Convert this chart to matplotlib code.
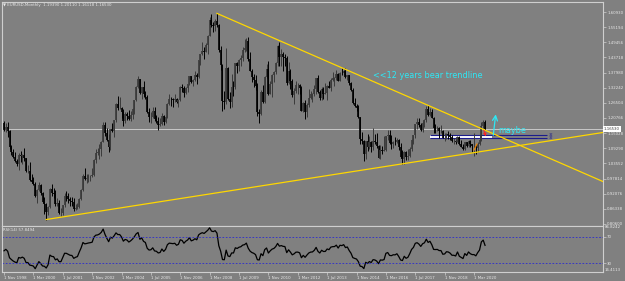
import matplotlib.pyplot as plt
import numpy as np

# EURUSD monthly candles, Nov 1998 .. Sep 2020 (open = previous close)
close = [
    1.162, 1.173,
    1.159, 1.098, 1.077, 1.058, 1.044, 1.035, 1.068, 1.062, 1.068, 1.056, 1.007, 1.007,
    0.972, 0.966, 0.957, 0.913, 0.933, 0.953, 0.925, 0.888, 0.883, 0.851, 0.870, 0.940,
    0.924, 0.921, 0.880, 0.887, 0.848, 0.848, 0.877, 0.912, 0.911, 0.901, 0.892, 0.890,
    0.861, 0.868, 0.872, 0.902, 0.934, 0.987, 0.977, 0.981, 0.986, 0.989, 0.993, 1.049,
    1.074, 1.078, 1.091, 1.117, 1.181, 1.150, 1.124, 1.099, 1.165, 1.158, 1.199, 1.259,
    1.246, 1.247, 1.230, 1.197, 1.222, 1.217, 1.202, 1.218, 1.241, 1.276, 1.327, 1.356,
    1.304, 1.326, 1.297, 1.287, 1.230, 1.210, 1.213, 1.234, 1.202, 1.198, 1.180, 1.184,
    1.216, 1.193, 1.212, 1.262, 1.281, 1.279, 1.277, 1.281, 1.267, 1.276, 1.324, 1.320,
    1.302, 1.323, 1.336, 1.365, 1.345, 1.353, 1.369, 1.363, 1.426, 1.449, 1.463, 1.459,
    1.486, 1.518, 1.579, 1.559, 1.556, 1.575, 1.561, 1.467, 1.408, 1.273, 1.269, 1.397,
    1.281, 1.267, 1.325, 1.324, 1.415, 1.403, 1.426, 1.435, 1.464, 1.472, 1.500, 1.433,
    1.387, 1.363, 1.351, 1.329, 1.229, 1.224, 1.305, 1.268, 1.363, 1.393, 1.299, 1.338,
    1.369, 1.382, 1.416, 1.481, 1.439, 1.450, 1.439, 1.436, 1.340, 1.386, 1.346, 1.294,
    1.309, 1.333, 1.334, 1.323, 1.236, 1.266, 1.229, 1.258, 1.285, 1.297, 1.299, 1.319,
    1.358, 1.306, 1.282, 1.317, 1.300, 1.301, 1.330, 1.322, 1.352, 1.358, 1.359, 1.375,
    1.349, 1.380, 1.377, 1.387, 1.363, 1.369, 1.339, 1.313, 1.263, 1.253, 1.245, 1.210,
    1.129, 1.120, 1.073, 1.122, 1.099, 1.115, 1.098, 1.121, 1.117, 1.100, 1.057, 1.086,
    1.083, 1.087, 1.138, 1.145, 1.113, 1.110, 1.117, 1.116, 1.124, 1.098, 1.059, 1.052,
    1.080, 1.058, 1.065, 1.090, 1.124, 1.142, 1.184, 1.191, 1.181, 1.164, 1.190, 1.200,
    1.241, 1.219, 1.232, 1.208, 1.169, 1.168, 1.169, 1.160, 1.160, 1.131, 1.133, 1.147,
    1.145, 1.137, 1.122, 1.122, 1.117, 1.137, 1.108, 1.099, 1.090, 1.115, 1.102, 1.121,
    1.109, 1.103, 1.103, 1.095, 1.110, 1.123, 1.178, 1.194, 1.165,
]
high = [
    1.198, 1.187,
    1.191, 1.161, 1.104, 1.092, 1.078, 1.051, 1.075, 1.083, 1.072, 1.093, 1.057, 1.029,
    1.041, 0.994, 0.984, 0.964, 0.938, 0.967, 0.958, 0.929, 0.908, 0.885, 0.874, 0.944,
    0.959, 0.942, 0.934, 0.904, 0.897, 0.866, 0.878, 0.924, 0.931, 0.922, 0.908, 0.907,
    0.906, 0.880, 0.887, 0.904, 0.939, 0.995, 1.019, 0.996, 0.996, 0.993, 1.020, 1.051,
    1.090, 1.093, 1.109, 1.120, 1.193, 1.193, 1.171, 1.148, 1.167, 1.188, 1.200, 1.263,
    1.290, 1.287, 1.251, 1.240, 1.229, 1.232, 1.239, 1.233, 1.244, 1.277, 1.330, 1.367,
    1.357, 1.327, 1.349, 1.311, 1.296, 1.245, 1.229, 1.248, 1.250, 1.220, 1.212, 1.208,
    1.226, 1.219, 1.217, 1.265, 1.297, 1.289, 1.285, 1.297, 1.285, 1.281, 1.330, 1.337,
    1.328, 1.327, 1.338, 1.368, 1.365, 1.354, 1.385, 1.379, 1.427, 1.450, 1.497, 1.478,
    1.492, 1.522, 1.590, 1.602, 1.573, 1.584, 1.604, 1.562, 1.482, 1.412, 1.309, 1.472,
    1.400, 1.306, 1.374, 1.349, 1.416, 1.419, 1.430, 1.445, 1.478, 1.506, 1.510, 1.514,
    1.458, 1.395, 1.373, 1.370, 1.340, 1.241, 1.313, 1.333, 1.367, 1.412, 1.425, 1.346,
    1.373, 1.386, 1.420, 1.486, 1.494, 1.470, 1.458, 1.449, 1.441, 1.420, 1.392, 1.354,
    1.323, 1.349, 1.339, 1.338, 1.328, 1.270, 1.274, 1.264, 1.317, 1.309, 1.304, 1.331,
    1.359, 1.371, 1.314, 1.324, 1.325, 1.342, 1.334, 1.346, 1.360, 1.383, 1.362, 1.389,
    1.378, 1.382, 1.397, 1.392, 1.399, 1.370, 1.370, 1.345, 1.320, 1.284, 1.261, 1.257,
    1.212, 1.153, 1.124, 1.122, 1.147, 1.139, 1.121, 1.171, 1.146, 1.150, 1.104, 1.106,
    1.100, 1.138, 1.139, 1.162, 1.162, 1.142, 1.119, 1.137, 1.133, 1.127, 1.113, 1.087,
    1.082, 1.083, 1.091, 1.099, 1.127, 1.145, 1.185, 1.207, 1.209, 1.188, 1.196, 1.203,
    1.254, 1.256, 1.245, 1.240, 1.210, 1.185, 1.179, 1.174, 1.182, 1.162, 1.150, 1.150,
    1.157, 1.149, 1.145, 1.132, 1.127, 1.141, 1.139, 1.125, 1.109, 1.118, 1.118, 1.124,
    1.124, 1.110, 1.150, 1.109, 1.115, 1.142, 1.191, 1.201, 1.201,
]
low = [
    1.157, 1.154,
    1.135, 1.089, 1.068, 1.055, 1.040, 1.026, 1.011, 1.040, 1.034, 1.045, 1.004, 0.998,
    0.968, 0.962, 0.952, 0.909, 0.884, 0.930, 0.917, 0.885, 0.845, 0.823, 0.840, 0.866,
    0.911, 0.904, 0.876, 0.873, 0.845, 0.837, 0.839, 0.870, 0.894, 0.887, 0.875, 0.875,
    0.856, 0.859, 0.863, 0.866, 0.898, 0.932, 0.971, 0.960, 0.964, 0.970, 0.985, 0.986,
    1.036, 1.068, 1.051, 1.063, 1.116, 1.141, 1.121, 1.080, 1.085, 1.156, 1.137, 1.192,
    1.237, 1.240, 1.207, 1.176, 1.190, 1.199, 1.201, 1.198, 1.205, 1.224, 1.271, 1.320,
    1.298, 1.278, 1.289, 1.280, 1.228, 1.191, 1.187, 1.209, 1.198, 1.187, 1.164, 1.176,
    1.183, 1.183, 1.189, 1.209, 1.257, 1.252, 1.249, 1.268, 1.264, 1.248, 1.272, 1.306,
    1.287, 1.299, 1.305, 1.334, 1.342, 1.329, 1.349, 1.337, 1.358, 1.409, 1.446, 1.431,
    1.456, 1.451, 1.517, 1.552, 1.533, 1.536, 1.553, 1.459, 1.390, 1.233, 1.242, 1.262,
    1.274, 1.247, 1.251, 1.292, 1.317, 1.380, 1.385, 1.403, 1.423, 1.456, 1.463, 1.425,
    1.386, 1.344, 1.327, 1.315, 1.214, 1.188, 1.218, 1.265, 1.263, 1.361, 1.296, 1.297,
    1.286, 1.343, 1.376, 1.406, 1.403, 1.403, 1.384, 1.404, 1.333, 1.336, 1.318, 1.286,
    1.262, 1.301, 1.299, 1.300, 1.234, 1.229, 1.204, 1.213, 1.251, 1.280, 1.269, 1.292,
    1.300, 1.302, 1.275, 1.275, 1.279, 1.300, 1.276, 1.320, 1.311, 1.349, 1.330, 1.353,
    1.346, 1.346, 1.372, 1.370, 1.359, 1.350, 1.334, 1.310, 1.261, 1.250, 1.236, 1.206,
    1.110, 1.110, 1.046, 1.052, 1.082, 1.092, 1.079, 1.085, 1.109, 1.094, 1.056, 1.052,
    1.071, 1.083, 1.082, 1.123, 1.110, 1.091, 1.095, 1.105, 1.113, 1.085, 1.055, 1.035,
    1.034, 1.049, 1.050, 1.058, 1.084, 1.110, 1.131, 1.166, 1.172, 1.157, 1.155, 1.172,
    1.192, 1.215, 1.215, 1.207, 1.151, 1.151, 1.157, 1.130, 1.150, 1.130, 1.122, 1.127,
    1.129, 1.123, 1.118, 1.111, 1.111, 1.116, 1.107, 1.096, 1.088, 1.088, 1.098, 1.098,
    1.099, 1.078, 1.064, 1.073, 1.077, 1.107, 1.119, 1.171, 1.161,
]
# closes before Nov 1998, only used to warm up the RSI
warmup_close = [1.203, 1.166, 1.158, 1.139, 1.153, 1.137, 1.085, 1.111, 1.118, 1.131, 1.117, 1.104,
                1.084, 1.095, 1.083, 1.102, 1.100, 1.103, 1.101, 1.126, 1.179, 1.190]

price_ticks = [1.60930, 1.55194, 1.49456, 1.43718, 1.37980, 1.32242, 1.26504, 1.20766,
               1.15028, 1.09290, 1.03552, 0.97814, 0.92076, 0.86338, 0.80600]
bid = 1.16530
date_labels = ["1 Nov 1998", "1 Mar 2000", "1 Jul 2001", "1 Nov 2002", "1 Mar 2004", "1 Jul 2005",
               "1 Nov 2006", "1 Mar 2008", "1 Jul 2009", "1 Nov 2010", "1 Mar 2012", "1 Jul 2013",
               "1 Nov 2014", "1 Mar 2016", "1 Jul 2017", "1 Nov 2018", "1 Mar 2020"]
mon = {"Jan": 1, "Mar": 3, "Jul": 7, "Nov": 11}
date_pos = [(int(s.split()[2]) - 1998) * 12 + mon[s.split()[1]] - 11 for s in date_labels]

# trendline anchors (month index, price)
bear_line = [(116, 1.604), (231, 1.2555)]
bull_line = [(23, 0.823), (217, 1.034)]

open_ = [warmup_close[-1]] + close[:-1]
n = len(close)
idx = np.arange(n)


def rsi(values, period=14):
    v = np.asarray(values, dtype=float)
    d = np.diff(v)
    gain = np.where(d > 0, d, 0.0)
    loss = np.where(d < 0, -d, 0.0)
    out = np.full(len(v), np.nan)
    ag = gain[:period].mean()
    al = loss[:period].mean()
    out[period] = 100 - 100 / (1 + ag / al)
    for i in range(period + 1, len(v)):
        ag = (ag * (period - 1) + gain[i - 1]) / period
        al = (al * (period - 1) + loss[i - 1]) / period
        out[i] = 100 - 100 / (1 + ag / al)
    return out


rsi_vals = rsi(warmup_close + close)[-n:]

bg = '#808080'
fg = '#e8e8e8'
frame = '#cfcfcf'
W, H = 625, 281
fig = plt.figure(figsize=(6.25, 2.81), dpi=100, facecolor=bg)
ax = fig.add_axes([2 / W, 1 - 225.5 / H, 601 / W, 224 / H], facecolor=bg)
ax2 = fig.add_axes([2 / W, 1 - 272 / H, 601 / W, 46.5 / H], facecolor=bg)

px = 1.836
xl = ((2 - 4) / px, (603 - 4) / px)
for a in (ax, ax2):
    a.set_xlim(*xl)
    for s in a.spines.values():
        s.set_color(frame)
        s.set_linewidth(0.8)

ax.set_ylim(0.8003, 1.6491)

# candles
o = np.array(open_); c = np.array(close)
hi = np.maximum(np.array(high), np.maximum(o, c))
lo = np.minimum(np.array(low), np.minimum(o, c))
cols = np.where(c >= o, '#3a3a3a', '#000000')
ax.vlines(idx, lo, hi, colors=cols, lw=0.7, zorder=4)
ax.vlines(idx, np.minimum(o, c), np.maximum(o, c), colors=cols, lw=1.2, zorder=4)

# bid line
ax.axhline(bid, color='#d4d4d4', lw=0.6, zorder=2)

# trendlines (rays to the right edge)
for (x1, y1), (x2, y2) in (bear_line, bull_line):
    k = (y2 - y1) / (x2 - x1)
    ax.plot([x1, xl[1]], [y1, y1 + k * (xl[1] - x1)], color='#ffd700', lw=0.9, zorder=5)

# support zone and levels
ax.add_patch(plt.Rectangle((232, 1.131), 34, 0.012, facecolor='white', edgecolor='none', zorder=3))
ax.hlines([1.143, 1.130], 232, 296, color='#1c1c8c', lw=0.8, zorder=3)
for yv in (1.143, 1.130):
    ax.text(296.5, yv, '32', color='#1c1c8c', fontsize=2.6, va='center', zorder=3)

# drawn arrows and marks
ax.annotate('', xy=(263, 1.128), xytext=(260.9, 1.170),
            arrowprops=dict(arrowstyle='->', color='#ff2020', lw=0.8, mutation_scale=4), zorder=6)
ax.annotate('', xy=(268, 1.232), xytext=(266.3, 1.132),
            arrowprops=dict(arrowstyle='->', color='#2ee8f5', lw=0.9, mutation_scale=9), zorder=6)
ax.plot([256, 257.6], [1.086, 1.109], color='#ff8c00', lw=0.8, zorder=6)

ax.text(201, 1.370, '<<12 years bear trendline', color='#2ee8f5', fontsize=5.9, va='center', zorder=6)
ax.text(269, 1.160, 'maybe', color='#2ee8f5', fontsize=5.9, va='center', zorder=6)

# price axis
ax.set_xticks([])
ax.yaxis.tick_right()
ax.set_yticks(price_ticks)
ax.set_yticklabels(['%.5f' % v for v in price_ticks])
ax.tick_params(axis='y', colors=frame, labelcolor=fg, labelsize=2.8, length=2, width=0.5, pad=1)
ax.text(1.0015, bid, '%.5f' % bid, transform=ax.get_yaxis_transform(), fontsize=2.8, color='#404040',
        va='center', ha='left', bbox=dict(facecolor='white', edgecolor='none', pad=0.8), zorder=7,
        clip_on=False)

fig.text(3 / W, 1 - 5 / H, '\u25bc EURUSD,Monthly  1.19390 1.20110 1.16118 1.16530', fontsize=2.8,
         color=fg, va='center')

# RSI window
ax2.plot(idx, rsi_vals, color='black', lw=0.9)
for lvl in (70, 30):
    ax2.axhline(lvl, color='#2a2ad0', lw=0.6, ls=(0, (2, 2)))
ax2.set_ylim(16.4113, 86.8242)
ax2.yaxis.tick_right()
ax2.set_yticks([70, 30])
ax2.set_yticklabels(['70', '30'])
ax2.tick_params(axis='y', colors=frame, labelcolor=fg, labelsize=2.8, length=2, width=0.5, pad=1)
ax2.text(1.003, 1.0, '86.8242', transform=ax2.transAxes, fontsize=2.8, color=fg, va='top')
ax2.text(1.003, 0.0, '16.4113', transform=ax2.transAxes, fontsize=2.8, color=fg, va='bottom')
ax2.text(0.002, 0.95, 'RSI(14) 57.8494', transform=ax2.transAxes, fontsize=2.8, color=fg, va='top')

ax2.set_xticks(date_pos)
ax2.set_xticklabels(date_labels)
ax2.tick_params(axis='x', colors=frame, labelcolor=fg, labelsize=2.8, length=2, width=0.5, pad=1)
for t in ax2.get_xticklabels():
    t.set_ha('left')

fig.savefig('out.png', dpi=100, facecolor=bg)
